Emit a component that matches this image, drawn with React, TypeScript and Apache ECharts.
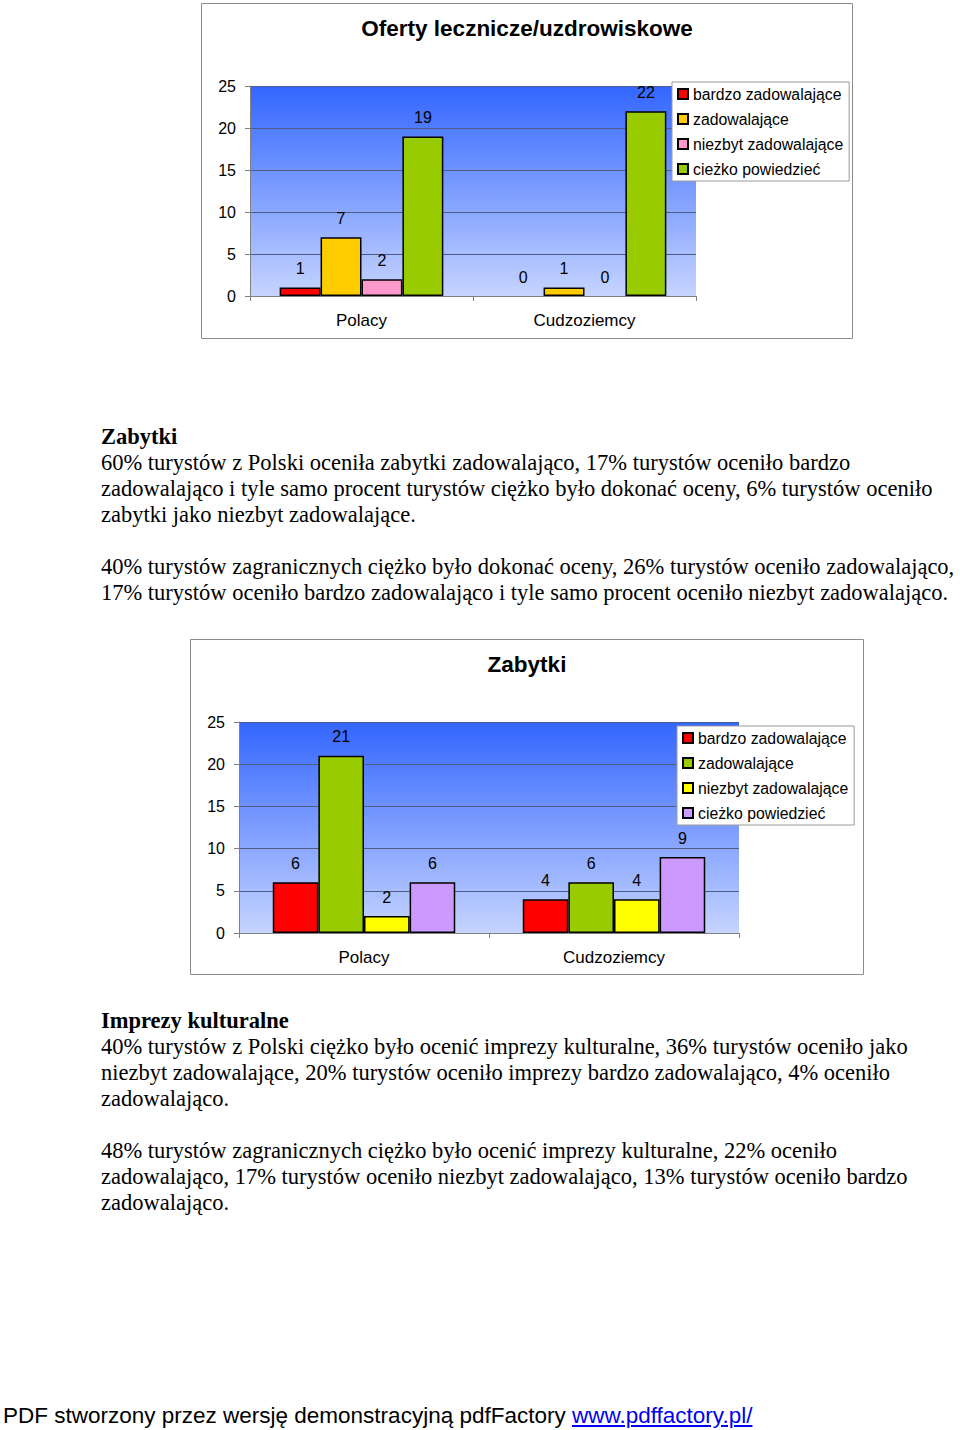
import React, { useEffect, useRef } from "react";
import * as echarts from "echarts";

// ---------- DATA ----------
const categories = ["Polacy", "Cudzoziemcy"];
const ratingNames = [
  "bardzo zadowalające",
  "zadowalające",
  "niezbyt zadowalające",
  "cieżko powiedzieć",
];
const yMin = 0;
const yMax = 25;
const yInterval = 5;

// Chart 1: Oferty lecznicze/uzdrowiskowe
const ofertyTitle = "Oferty lecznicze/uzdrowiskowe";
const ofertyBardzo = [1, 0];
const ofertyZadowalajace = [7, 1];
const ofertyNiezbyt = [2, 0];
const ofertyCiezko = [19, 22];
const ofertyColors = ["#ff0000", "#ffcc00", "#ff99cc", "#99cc00"];

// Chart 2: Zabytki
const zabytkiTitle = "Zabytki";
const zabytkiBardzo = [6, 4];
const zabytkiZadowalajace = [21, 6];
const zabytkiNiezbyt = [2, 4];
const zabytkiCiezko = [6, 9];
const zabytkiColors = ["#ff0000", "#99cc00", "#ffff00", "#cc99ff"];

// Text
const zabytkiHeading = "Zabytki";
const zabytkiPara1 = [
  "60% turystów z Polski oceniła zabytki zadowalająco, 17% turystów oceniło bardzo",
  "zadowalająco i tyle samo procent turystów ciężko było dokonać oceny, 6% turystów oceniło",
  "zabytki jako niezbyt zadowalające.",
];
const zabytkiPara2 = [
  "40% turystów zagranicznych ciężko było dokonać oceny, 26% turystów oceniło zadowalająco,",
  "17% turystów oceniło bardzo zadowalająco i tyle samo procent oceniło niezbyt zadowalająco.",
];
const imprezyHeading = "Imprezy kulturalne";
const imprezyPara1 = [
  "40% turystów z Polski ciężko było ocenić imprezy kulturalne, 36% turystów oceniło jako",
  "niezbyt zadowalające, 20% turystów oceniło imprezy bardzo zadowalająco, 4% oceniło",
  "zadowalająco.",
];
const imprezyPara2 = [
  "48% turystów zagranicznych ciężko było ocenić imprezy kulturalne, 22% oceniło",
  "zadowalająco, 17% turystów oceniło niezbyt zadowalająco, 13% turystów oceniło bardzo",
  "zadowalająco.",
];
const footerText = "PDF stworzony przez wersję demonstracyjną pdfFactory ";
const footerLink = "www.pdffactory.pl/";

const SANS = "'Liberation Sans', Arial, sans-serif";
const SERIF = "'Liberation Serif', 'Times New Roman', serif";

type ChartCfg = {
  title: string;
  values: number[][];
  colors: string[];
  width: number;
  height: number;
  gridLeft: number;
  gridTop: number;
  gridWidth: number;
  gridHeight: number;
  legendLeft: number;
  legendTop: number;
  catGap: string;
};

function buildOption(c: ChartCfg) {
  return {
    animation: false,
    textStyle: { fontFamily: SANS },
    graphic: [
      {
        type: "rect",
        shape: { x: 0.5, y: 0.5, width: c.width - 1, height: c.height - 1 },
        style: { fill: "none", stroke: "#8c8c8c", lineWidth: 1 },
        silent: true,
      },
      {
        type: "text",
        x: c.width / 2,
        y: 25,
        style: {
          text: c.title,
          fontFamily: SANS,
          fontSize: 22.5,
          fontWeight: "bold",
          fill: "#000",
          align: "center",
          verticalAlign: "middle",
        },
      },
    ],
    grid: {
      show: true,
      left: c.gridLeft,
      top: c.gridTop,
      width: c.gridWidth,
      height: c.gridHeight,
      borderWidth: 0,
      backgroundColor: {
        type: "linear",
        x: 0,
        y: 0,
        x2: 0,
        y2: 1,
        colorStops: [
          { offset: 0, color: "#3366ff" },
          { offset: 1, color: "#c6d4ff" },
        ],
      },
    },
    legend: {
      orient: "vertical",
      left: c.legendLeft,
      top: c.legendTop,
      icon: "rect",
      itemWidth: 10,
      itemHeight: 10,
      itemGap: 9,
      padding: [4, 6, 4, 5],
      backgroundColor: "#ffffff",
      borderColor: "#9a9a9a",
      borderWidth: 1,
      textStyle: { fontSize: 15.8, lineHeight: 15, color: "#000", fontFamily: SANS },
      data: ratingNames,
    },
    xAxis: {
      type: "category",
      data: categories,
      axisLine: { show: true, lineStyle: { color: "#808080", width: 1 } },
      axisTick: { show: true, length: 5, lineStyle: { color: "#808080" } },
      axisLabel: { fontSize: 17, color: "#000", margin: 16, fontFamily: SANS },
      splitLine: { show: false },
    },
    yAxis: {
      type: "value",
      min: yMin,
      max: yMax,
      interval: yInterval,
      axisLine: { show: true, lineStyle: { color: "#808080", width: 1 } },
      axisTick: { show: true, length: 5, lineStyle: { color: "#808080" } },
      axisLabel: { fontSize: 16, color: "#000", margin: 14, fontFamily: SANS },
      splitLine: { show: true, lineStyle: { color: "#4f5c85", width: 1 } },
    },
    series: ratingNames.map((name, i) => ({
      name,
      type: "bar",
      data: c.values[i].map((v) =>
        v === 0 ? { value: v, itemStyle: { borderWidth: 0 } } : v
      ),
      barGap: "0%",
      barCategoryGap: c.catGap,
      itemStyle: { color: c.colors[i], borderColor: "#000", borderWidth: 1.5 },
      label: {
        show: true,
        position: "top",
        distance: 11,
        fontSize: 16,
        color: "#000",
        fontFamily: SANS,
      },
    })),
  };
}

function Chart({ cfg, left, top }: { cfg: ChartCfg; left: number; top: number }) {
  const ref = useRef<HTMLDivElement>(null);
  useEffect(() => {
    if (!ref.current) return;
    const chart = echarts.init(ref.current, null, {
      renderer: "svg",
      width: cfg.width,
      height: cfg.height,
    });
    chart.setOption(buildOption(cfg) as any);
    return () => chart.dispose();
  }, [cfg]);
  return (
    <div
      ref={ref}
      style={{
        position: "absolute",
        left,
        top,
        width: cfg.width,
        height: cfg.height,
      }}
    />
  );
}

const ofertyCfg: ChartCfg = {
  title: ofertyTitle,
  values: [ofertyBardzo, ofertyZadowalajace, ofertyNiezbyt, ofertyCiezko],
  colors: ofertyColors,
  width: 652,
  height: 336,
  gridLeft: 49,
  gridTop: 83,
  gridWidth: 446,
  gridHeight: 210,
  legendLeft: 471,
  legendTop: 79,
  catGap: "26.6%",
};

const zabytkiCfg: ChartCfg = {
  title: zabytkiTitle,
  values: [zabytkiBardzo, zabytkiZadowalajace, zabytkiNiezbyt, zabytkiCiezko],
  colors: zabytkiColors,
  width: 674,
  height: 336,
  gridLeft: 49,
  gridTop: 83,
  gridWidth: 500,
  gridHeight: 211,
  legendLeft: 487,
  legendTop: 87,
  catGap: "27%",
};

function Lines({ lines, top, bold }: { lines: string[]; top: number; bold?: boolean }) {
  return (
    <>
      {lines.map((l, i) => (
        <div
          key={i}
          style={{
            position: "absolute",
            left: 101,
            top: top + i * 26,
            height: 26,
            lineHeight: "26px",
            fontSize: 22.5,
            fontFamily: SERIF,
            fontWeight: bold ? "bold" : "normal",
            whiteSpace: "nowrap",
            color: "#000",
          }}
        >
          {l}
        </div>
      ))}
    </>
  );
}

export default function App() {
  return (
    <div
      style={{
        position: "absolute",
        left: 0,
        top: 0,
        width: 960,
        height: 1430,
        background: "#fff",
        overflow: "hidden",
      }}
    >
      <Chart cfg={ofertyCfg} left={201} top={3} />
      <Lines lines={[zabytkiHeading]} top={424} bold />
      <Lines lines={zabytkiPara1} top={450} />
      <Lines lines={zabytkiPara2} top={554} />
      <Chart cfg={zabytkiCfg} left={190} top={639} />
      <Lines lines={[imprezyHeading]} top={1008} bold />
      <Lines lines={imprezyPara1} top={1034} />
      <Lines lines={imprezyPara2} top={1138} />
      <div
        style={{
          position: "absolute",
          left: 3,
          top: 1402,
          height: 28,
          lineHeight: "28px",
          fontSize: 22.5,
          fontFamily: SANS,
          whiteSpace: "nowrap",
          color: "#000",
        }}
      >
        {footerText}
        <span style={{ color: "#0000ee", textDecoration: "underline" }}>{footerLink}</span>
      </div>
    </div>
  );
}
